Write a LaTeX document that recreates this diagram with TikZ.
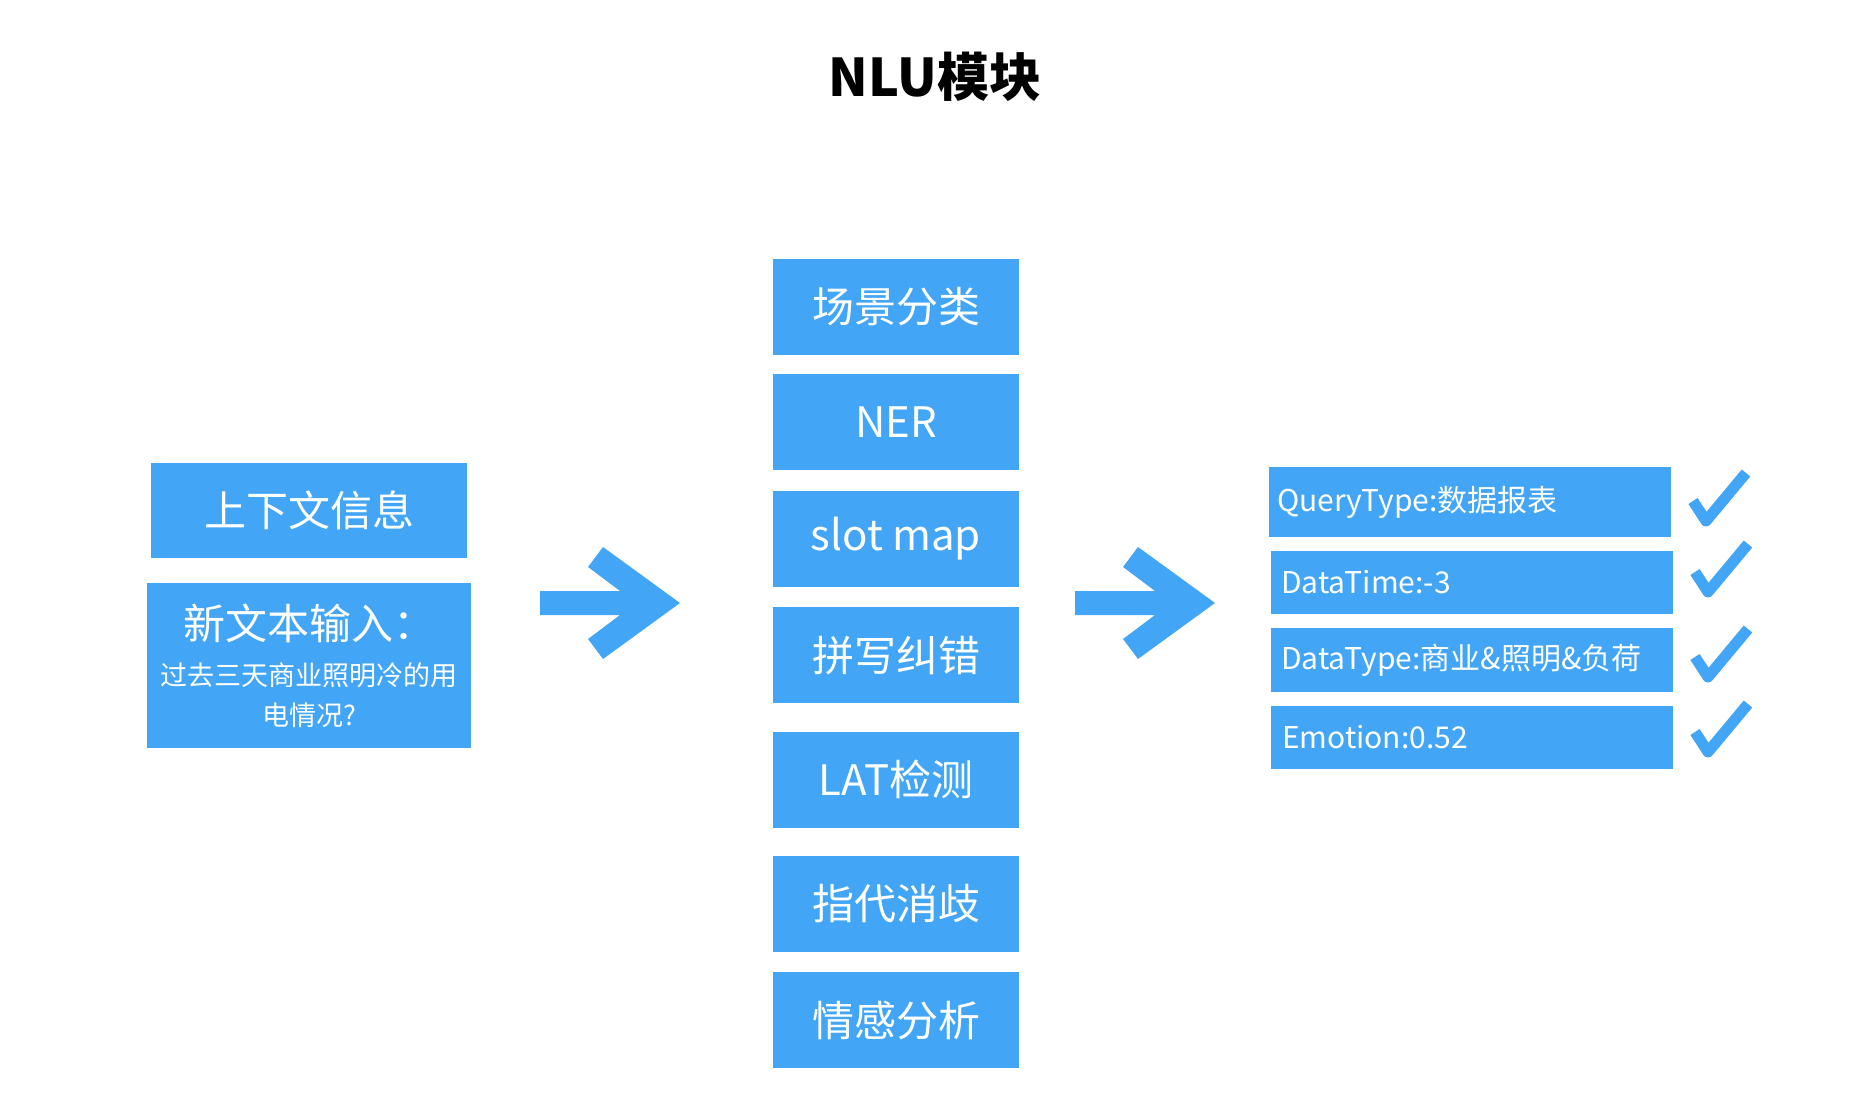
\documentclass[tikz,border=0pt]{standalone}
\usepackage{fontspec}
\setmainfont{Noto Sans CJK SC}
\usetikzlibrary{positioning}

\definecolor{nlublue}{RGB}{66,165,245}

\begin{document}
\begin{tikzpicture}[
  x=1pt,y=-1pt,
  box/.style={fill=nlublue,text=white,inner sep=0pt,align=center},
  midbox/.style={box,minimum width=246pt,minimum height=96pt,font=\fontsize{42}{50}\selectfont},
  outbox/.style={box,minimum width=402pt,font=\fontsize{30}{36}\selectfont},
  fatarrow/.style={fill=nlublue},
  tick/.style={draw=nlublue,line width=11pt,line join=round}
]
\useasboundingbox (0,0) rectangle (1864,1094);

% ----- Titre ---------------------------------------------------------------
\node[font=\fontsize{52}{60}\selectfont\bfseries] (title) at (935,77) {NLU模块};

% ----- Entrée (gauche) -----------------------------------------------------
\node[box,minimum width=316pt,minimum height=95pt,font=\fontsize{42}{50}\selectfont]
  (ctx) at (309,510.5) {上下文信息};
\node[box,minimum width=324pt,minimum height=165pt,text width=324pt]
  (query) at (309,665.5)
  {\fontsize{42}{50}\selectfont 新文本输入：\\[6pt]
   \fontsize{27}{40}\selectfont 过去三天商业照明冷的用\\[14pt]电情况?};

% ----- Modules (milieu) ----------------------------------------------------
\node[midbox] (scene) at (896,307) {场景分类};
\node[midbox,below=19pt of scene] (ner)   {NER};
\node[midbox,below=20pt of ner]   (slot)  {slot map};
\node[midbox,below=20pt of slot]  (spell) {拼写纠错};
\node[midbox,below=28pt of spell] (lat)   {LAT检测};
\node[midbox,below=28pt of lat]   (coref) {指代消歧};
\node[midbox,below=20pt of coref] (senti) {情感分析};

% ----- Sorties (droite) ----------------------------------------------------
\node[outbox,minimum height=70pt,text width=386pt,align=left] (qtype) at (1470,502)   {QueryType:数据报表};
\node[outbox,minimum height=63pt,text width=382pt,align=left] (dtime) at (1472,582.5) {DataTime:-3};
\node[outbox,minimum height=64pt,text width=382pt,align=left] (dtype) at (1472,660)   {DataType:商业\&照明\&负荷};
\node[outbox,minimum height=63pt,text width=380pt,align=left] (emo)   at (1472,737.5) {Emotion:0.52};

% ----- Grosses flèches -----------------------------------------------------
\coordinate (arrL) at (540,604);
\coordinate (arrR) at (1075,604);
\foreach \a in {arrL,arrR}
  \fill[fatarrow] (\a) ++(0,-13) -- ++(80,0) -- ++(-32,-24) -- ++(15,-20)
    -- ++(77,56) -- ++(-77,56) -- ++(-15,-20) -- ++(32,-24) -- ++(-80,0) -- cycle;

% ----- Coches --------------------------------------------------------------
\foreach \x/\y in {1688/467,1690/538,1690/623,1690/698}
  \draw[tick] (\x+5,\y+34) -- (\x+18,\y+54) -- (\x+58,\y+6);

\end{tikzpicture}
\end{document}
